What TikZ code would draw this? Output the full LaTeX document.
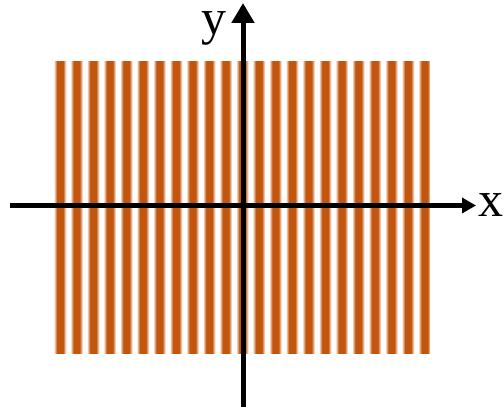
\documentclass[tikz,border=0pt]{standalone}
\usepackage{fontspec}
\setmainfont{Liberation Serif}
\usetikzlibrary{arrows.meta}
\definecolor{stripeorange}{RGB}{194,86,14}
\pgfdeclarehorizontalshading{stripeshade}{100bp}{color(0bp)=(white); color(31bp)=(white);
  color(41bp)=(stripeorange); color(59bp)=(stripeorange); color(69bp)=(white); color(100bp)=(white)}
\begin{document}
\begin{tikzpicture}[x=1pt, y=1pt,
  axis/.style={line width=5pt, black},
  axislabel/.style={font=\fontsize{50}{50}\selectfont, anchor=base, inner sep=0pt}]
  \useasboundingbox (0,0) rectangle (504,407);

  % Draw stripe pattern
  \begin{scope}
    \clip (54,53) rectangle (430,345);
    \foreach \i in {0,...,22}{
      \pgfmathsetmacro{\xc}{60+16.57*\i}
      \shade[shading=stripeshade] (\xc-8.285,53) rectangle (\xc+8.285,345);
    }
  \end{scope}

  % Axis end points
  \coordinate (xstart) at (10,201.5);
  \coordinate (xend) at (476,201.5);
  \coordinate (ystart) at (243,0);
  \coordinate (yend) at (243,404);

  % Draw axes
  \draw[axis, -{Triangle[length=14pt, width=15pt]}] (xstart) -- (xend);
  \draw[axis, -{Triangle[length=20pt, width=22pt]}] (ystart) -- (yend);

  % Axis labels
  \node[axislabel] (xlabel) at (491,190) {x};
  \node[axislabel] (ylabel) at (214,372) {y};
\end{tikzpicture}
\end{document}
